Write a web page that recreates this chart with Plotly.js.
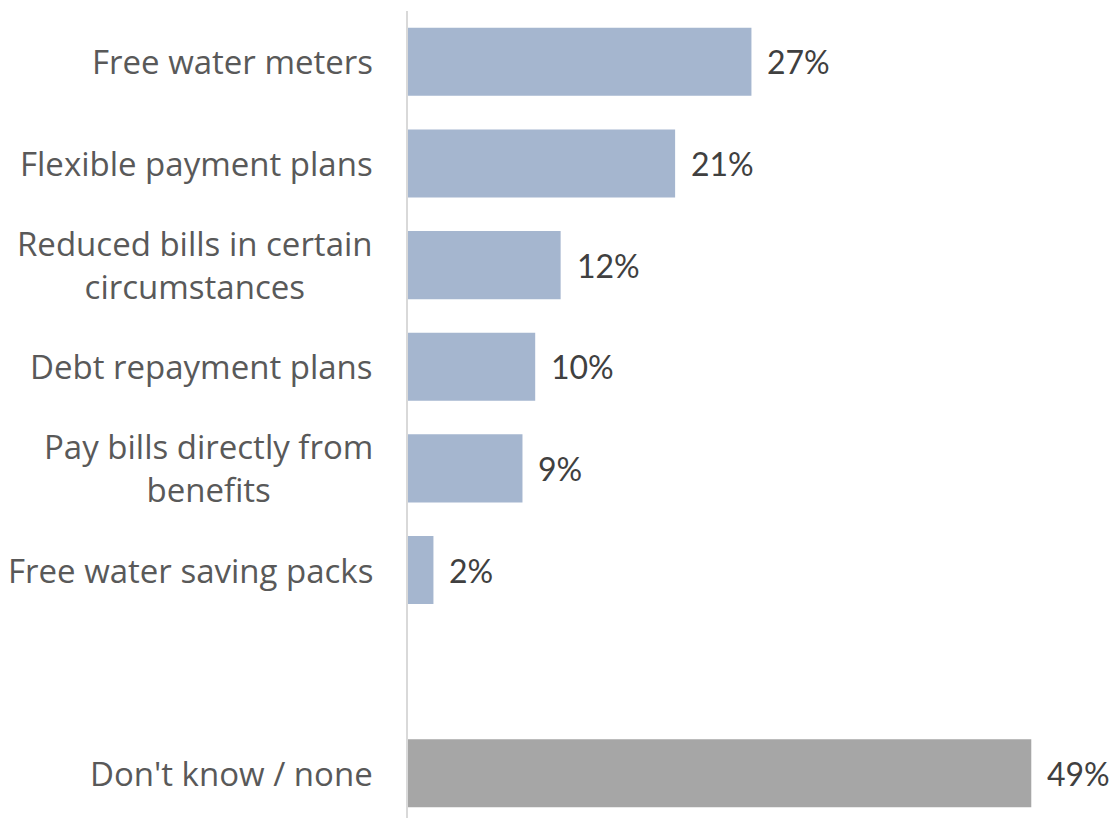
<!DOCTYPE html>
<html>
<head>
<meta charset="utf-8">
<script src="https://cdn.plot.ly/plotly-3.0.1.min.js"></script>
<style>html,body{margin:0;padding:0;background:#fff;}#chart{width:1116px;height:818px;}</style>
</head>
<body>
<div id="chart"></div>
<script>
var categories = ["Free water meters", "Flexible payment plans", "Reduced bills in certain<br>circumstances", "Debt repayment plans", "Pay bills directly from<br>benefits", "Free water saving packs", " ", "Don't know / none"];
var values = [27, 21, 12, 10, 9, 2, null, 49];
var valueLabels = ["27%", "21%", "12%", "10%", "9%", "2%", "", "49%"];
var barColors = ["#A5B6CF", "#A5B6CF", "#A5B6CF", "#A5B6CF", "#A5B6CF", "#A5B6CF", "#A5B6CF", "#A6A6A6"];

var LABEL_FONT = "'Open Sans', Lato, sans-serif";
var VALUE_FONT = "Lato, 'Open Sans', sans-serif";

var trace = {
  type: "bar",
  orientation: "h",
  y: categories,
  x: values,
  marker: {color: barColors, line: {width: 0}},
  hoverinfo: "none"
};

var annotations = [];
categories.forEach(function (c, i) {
  if (c.trim() !== "") {
    annotations.push({
      xref: "paper", yref: "y", x: 0, y: c,
      xanchor: "right", yanchor: "middle", xshift: -33,
      text: c, showarrow: false, align: "center",
      font: {family: LABEL_FONT, size: 33, color: "#595959"}
    });
  }
  if (values[i] !== null) {
    annotations.push({
      xref: "x", yref: "y", x: values[i], y: c,
      xanchor: "left", yanchor: "middle", xshift: 14,
      text: valueLabels[i], showarrow: false,
      font: {family: VALUE_FONT, size: 32, color: "#404040"}
    });
  }
});

var layout = {
  width: 1116, height: 818,
  margin: {l: 408, r: 0, t: 11, b: 0},
  paper_bgcolor: "#fff", plot_bgcolor: "#fff",
  showlegend: false,
  bargap: 0.33,
  xaxis: {range: [0, 55.66], showgrid: false, zeroline: false, showticklabels: false, showline: false, fixedrange: true},
  yaxis: {type: "category", categoryorder: "array", categoryarray: categories, range: [7.44, -0.5],
          showticklabels: false, showgrid: false, zeroline: false, showline: true, linecolor: "#D9D9D9", linewidth: 2, ticks: ""},
  annotations: annotations
};

Plotly.newPlot("chart", [trace], layout, {displayModeBar: false, staticPlot: true});
</script>
</body>
</html>
